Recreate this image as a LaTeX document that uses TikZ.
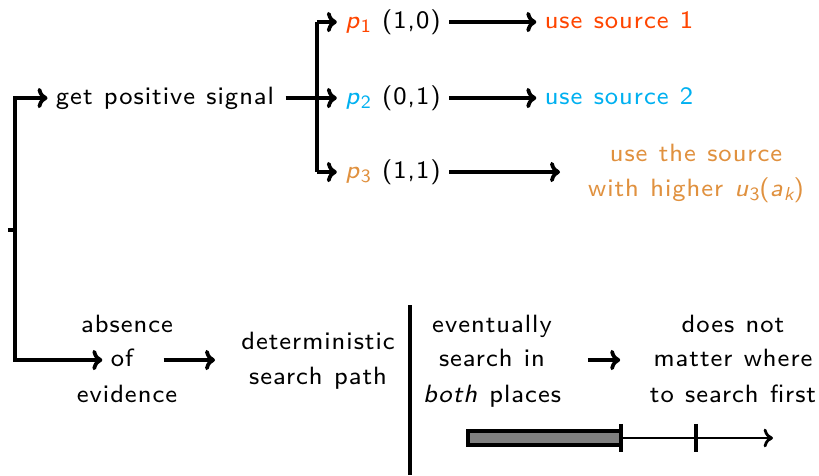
\documentclass[tikz,border=0pt]{standalone}
\usepackage{fontspec}
\setsansfont{lmsans8-regular}[Extension=.otf, ItalicFont=lmsans8-oblique, LetterSpace=4, WordSpace=1.15]
\usetikzlibrary{arrows.meta}
\definecolor{srcone}{RGB}{255,69,0}
\definecolor{srctwo}{RGB}{0,176,240}
\definecolor{srcboth}{RGB}{224,145,63}
\newcommand{\sym}[2]{\textit{#1}\raisebox{-0.35ex}{\fontsize{6}{6}\selectfont #2}}
\tikzset{
  lbl/.style={inner sep=2.5pt, text height=0.7em, text depth=0.26em,
    font=\sffamily\fontsize{8}{11}\selectfont},
  flow/.style={line width=1.2pt, -{To[length=3.2pt,width=6.5pt]}},
  bar/.style={line width=1.2pt}
}
\begin{document}
\begin{tikzpicture}[x=0.32pt,y=-0.32pt]
\useasboundingbox (0,0) rectangle (819,475);

% upper branch: positive signal
\coordinate (root) at (15,230);
\node[lbl] (gps) at (165,98) {get positive signal};
\coordinate (split) at (317,98);
\node[lbl] (p1) at (393,22) {\textcolor{srcone}{\sym{p}{1}}\hspace{0.45em}(1,0)};
\node[lbl] (p2) at (393,98) {\textcolor{srctwo}{\sym{p}{2}}\hspace{0.45em}(0,1)};
\node[lbl] (p3) at (393,172) {\textcolor{srcboth}{\sym{p}{3}}\hspace{0.45em}(1,1)};
\node[lbl, text=srcone] (u1) at (619,22) {use source 1};
\node[lbl, text=srctwo] (u2) at (619,98) {use source 2};
\node[lbl, text=srcboth] (u3a) at (696,155) {use the source};
\node[lbl, text=srcboth] (u3b) at (696,190) {with higher \sym{u}{3}(\textit{a}\raisebox{-0.35ex}{\fontsize{6}{6}\selectfont\itshape k})};
\coordinate (u3) at (560,172);

% lower branch: absence of evidence
\node[lbl] (absof) at (122,360) {of};
\node[lbl] at (127,326) {absence};
\node[lbl] at (127,396) {evidence};
\node[lbl] (det) at (318,343) {deterministic};
\node[lbl] at (318,378) {search path};
\node[lbl] at (492,326) {eventually};
\node[lbl] (srch) at (492,360) {search in};
\node[lbl] at (492,396) {\textit{both} places};
\node[lbl] at (733,326) {does not};
\node[lbl] (matter) at (733,360) {matter where};
\node[lbl] at (733,396) {to search first};
\coordinate (detin) at (215,360);

% connectors
\draw[bar] (8,230) -- (root);
\draw[flow] (root) |- (gps);
\draw[flow] (root) |- (absof);
\draw[flow, shorten <=1pt] (gps) -- (p2);
\draw[flow] (split |- p1) -- (p1);
\draw[flow] (split |- p3) -- (p3);
\draw[bar] (split |- p1) -- (split |- p3);
\draw[flow] (p1) -- (u1);
\draw[flow] (p2) -- (u2);
\draw[flow] (p3) -- (u3);
\draw[flow, shorten <=7pt] (absof) -- (detin);
\draw[flow, shorten <=11pt, shorten >=8pt] (srch) -- (matter);

% separator
\draw[line width=1.4pt] (410,305) -- (410,475);

% time line with the searched interval
\coordinate (t1) at (621,438);
\coordinate (t2) at (696,438);
\coordinate (tend) at (773,438);
\draw[line width=1.3pt, fill=black!50] (468,431) rectangle (t1 |- 0,445);
\draw[line width=0.9pt, -{To[length=3pt,width=6pt]}] (t1) -- (tend);
\draw[line width=1.2pt] ([yshift=4.5pt]t1) -- ([yshift=-4.5pt]t1);
\draw[line width=1.2pt] ([yshift=4.5pt]t2) -- ([yshift=-4.5pt]t2);
\end{tikzpicture}
\end{document}
